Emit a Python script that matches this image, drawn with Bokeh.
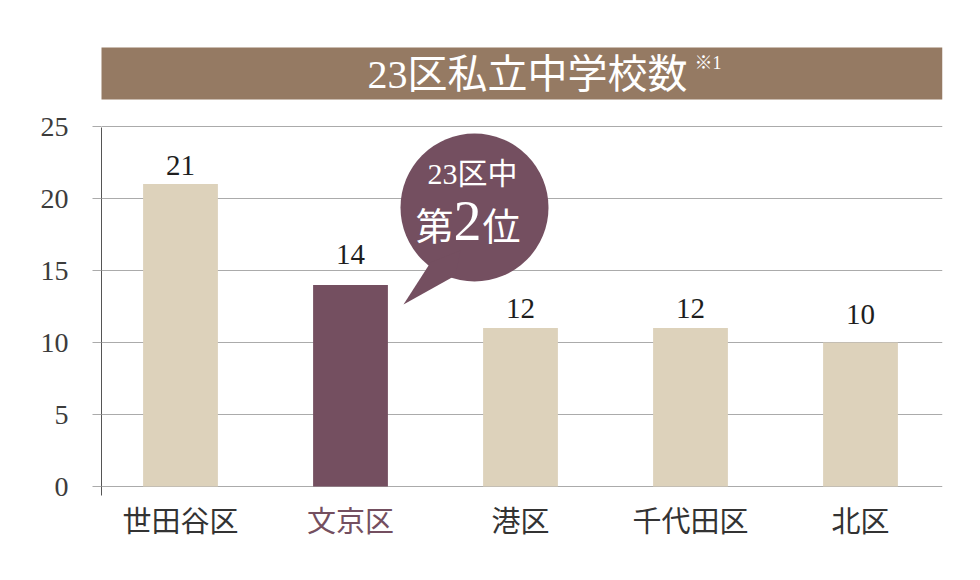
from bokeh.plotting import figure
from bokeh.models import Range1d, FixedTicker
from bokeh.core.properties import value
from bokeh.embed import file_html
from bokeh.resources import INLINE

# ---- data ----
categories = ["世田谷区", "文京区", "港区", "千代田区", "北区"]
bar_values = [21, 14, 11, 11, 10]          # bar heights as drawn
value_labels = ["21", "14", "12", "12", "10"]  # numbers printed above bars
highlight = "文京区"
y_ticks = [0, 5, 10, 15, 20, 25]
title_text = "23区私立中学校数"
title_note = "※1"
bubble_line1 = "23区中"
bubble_rank = ["第", "2", "位"]

# ---- styling / layout ----
W, H = 980, 580
FRAME_L, FRAME_R = 101, 942
ZERO_PX, PX_PER_UNIT = 486, 14.4
FIRST_CAT_PX, CAT_STEP = 180, 170
label_gap_px = [9, 21, 10, 10, 19]

BEIGE = "#DDD2BB"
PURPLE = "#744F60"
BROWN = "#957A63"
GRID = "#ABABAB"
SERIF = "'Liberation Serif', 'Noto Sans CJK JP'"
CJK = "'Noto Sans CJK JP'"


def px2x(px):
    return (px - FIRST_CAT_PX) / CAT_STEP


def px2y(py):
    return (ZERO_PX - py) / PX_PER_UNIT


p = figure(width=W, height=H,
           x_range=Range1d(px2x(FRAME_L), px2x(FRAME_R)),
           y_range=Range1d(px2y(H), px2y(0)),
           output_backend="svg", toolbar_location=None,
           x_axis_location=None, y_axis_location="left",
           min_border_left=FRAME_L, min_border_right=W - FRAME_R,
           min_border_top=0, min_border_bottom=0,
           outline_line_color=None, background_fill_color="white")

# y axis
ax = p.yaxis[0]
ax.ticker = FixedTicker(ticks=y_ticks)
ax.bounds = (px2y(495), px2y(127))
ax.axis_line_color = "#555555"
ax.axis_line_width = 1
ax.major_tick_out = 9
ax.major_tick_in = 0
ax.major_tick_line_color = GRID
ax.minor_tick_line_color = None
ax.major_label_standoff = 24
ax.major_label_text_font = SERIF
ax.major_label_text_font_size = "28px"
ax.major_label_text_color = "#3c3c3c"

p.xgrid.grid_line_color = None
p.ygrid.grid_line_color = GRID
p.ygrid.grid_line_width = 1

idx = list(range(len(categories)))
bar_colors = [PURPLE if c == highlight else BEIGE for c in categories]
cat_colors = [PURPLE if c == highlight else "#333333" for c in categories]

# bars
p.vbar(x=idx, top=bar_values, width=0.44, color=bar_colors, line_color=None)

# value labels
p.text(x=idx, y=bar_values, text=value_labels,
       y_offset=[-g for g in label_gap_px],
       text_align="center", text_baseline="bottom",
       text_font=value(SERIF), text_font_size="29px", text_color="#1e1e1e")

# category labels
p.text(x=idx, y=[0] * len(idx), text=categories, y_offset=32,
       text_align="center", text_baseline="middle",
       text_font=value(CJK), text_font_size="29px", text_color=cat_colors)

# title bar
p.quad(left=px2x(99), right=px2x(942), top=px2y(47), bottom=px2y(99),
       color=BROWN, line_color=None)
p.text(x=[px2x(527)], y=[px2y(74)], text=[title_text],
       text_align="center", text_baseline="middle",
       text_font=value(SERIF), text_font_size="40px", text_color="white")
p.text(x=[px2x(694)], y=[px2y(62)], text=[title_note],
       text_align="left", text_baseline="middle",
       text_font=value(SERIF), text_font_size="18px", text_color="white")

# speech bubble
BX, BY, BR = 474, 207, 74
p.scatter(x=[px2x(BX)], y=[px2y(BY)], size=2 * BR, marker="circle",
          color=PURPLE, line_color=None)
tail_px = [(430, 262), (403, 304), (455, 275), (460, 250)]
p.patch(x=[px2x(a) for a, b in tail_px], y=[px2y(b) for a, b in tail_px],
        color=PURPLE, line_color=None)
p.text(x=[px2x(472)], y=[px2y(173)], text=[bubble_line1],
       text_align="center", text_baseline="middle",
       text_font=value(SERIF), text_font_size="30px", text_color="white")
p.text(x=[px2x(434), px2x(467), px2x(501)], y=[px2y(226), px2y(220), px2y(226)],
       text=bubble_rank, text_align="center", text_baseline="middle",
       text_font=value(SERIF), text_font_size=["38px", "56px", "38px"],
       text_color="white")

open("out.html", "w").write(file_html(p, INLINE))
